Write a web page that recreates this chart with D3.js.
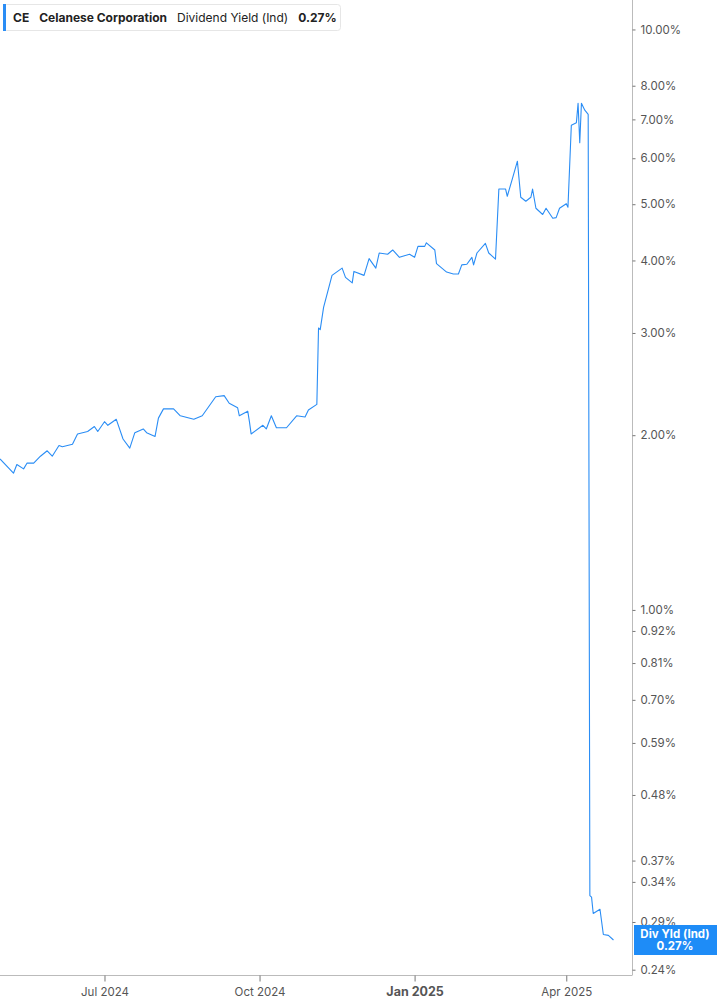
<!DOCTYPE html>
<html>
<head>
<meta charset="utf-8">
<script src="https://cdn.jsdelivr.net/npm/d3@7"></script>
<style>
  body { margin: 0; background: #fff; font-family: Inter, "Noto Sans", sans-serif; }
</style>
</head>
<body>
<svg id="chart" width="717" height="1005"></svg>
<script>
const dates = [
  '2024-04-30','2024-05-08','2024-05-10','2024-05-14','2024-05-16','2024-05-20','2024-05-24','2024-05-28','2024-05-31',
  '2024-06-04','2024-06-06','2024-06-12','2024-06-15','2024-06-21','2024-06-25','2024-06-27','2024-07-01','2024-07-03',
  '2024-07-08','2024-07-12','2024-07-16','2024-07-19','2024-07-24','2024-07-26','2024-07-31','2024-08-02','2024-08-05',
  '2024-08-11','2024-08-15','2024-08-23','2024-08-28','2024-09-05','2024-09-10','2024-09-13','2024-09-18','2024-09-19',
  '2024-09-24','2024-09-25','2024-09-26','2024-10-03','2024-10-05','2024-10-08','2024-10-11','2024-10-17','2024-10-23',
  '2024-10-28','2024-10-30','2024-11-04','2024-11-05','2024-11-06','2024-11-08','2024-11-13','2024-11-19','2024-11-21',
  '2024-11-25','2024-11-26','2024-12-02','2024-12-05','2024-12-09','2024-12-11','2024-12-16','2024-12-19','2024-12-23',
  '2024-12-29','2025-01-01','2025-01-03','2025-01-07','2025-01-08','2025-01-13','2025-01-14','2025-01-20','2025-01-24',
  '2025-01-27','2025-01-29','2025-02-01','2025-02-04','2025-02-05','2025-02-07','2025-02-12','2025-02-14','2025-02-18',
  '2025-02-20','2025-02-24','2025-02-25','2025-02-28','2025-03-03','2025-03-05','2025-03-08','2025-03-11','2025-03-12',
  '2025-03-14','2025-03-18','2025-03-20','2025-03-24','2025-03-26','2025-03-28','2025-04-01','2025-04-02','2025-04-04',
  '2025-04-07','2025-04-08','2025-04-09','2025-04-10','2025-04-12','2025-04-14','2025-04-15','2025-04-16','2025-04-17',
  '2025-04-21','2025-04-23','2025-04-26','2025-04-29'
];
const yieldPct = [
  1.82,1.72,1.78,1.75,1.79,1.79,1.84,1.88,1.84,
  1.92,1.91,1.93,2.01,2.03,2.07,2.03,2.11,2.08,
  2.13,1.97,1.90,2.02,2.05,2.02,1.99,2.14,2.22,
  2.22,2.16,2.13,2.16,2.33,2.34,2.27,2.23,2.16,
  2.20,2.11,2.01,2.08,2.05,2.16,2.06,2.06,2.16,
  2.15,2.21,2.26,3.06,3.04,3.32,3.77,3.88,3.74,
  3.66,3.83,3.77,4.03,3.88,4.12,4.10,4.17,4.05,
  4.10,4.05,4.23,4.23,4.29,4.17,3.95,3.82,3.79,
  3.79,3.93,3.94,4.05,3.93,4.12,4.28,4.12,4.02,
  5.31,5.31,5.16,5.53,5.93,5.14,5.06,5.14,5.31,
  4.92,4.80,4.92,4.73,4.74,4.92,5.01,4.94,6.84,
  6.91,7.46,6.38,7.46,7.26,7.14,0.322,0.320,0.300,
  0.305,0.276,0.275,0.270
];
const yTicks = [10, 8, 7, 6, 5, 4, 3, 2, 1, 0.92, 0.81, 0.70, 0.59, 0.48, 0.37, 0.34, 0.29, 0.24];
const xTicks = ['2024-07-01', '2024-10-01', '2025-01-01', '2025-04-01'];

const parse = d3.timeParse('%Y-%m-%d');
const data = dates.map((d, i) => ({ date: parse(d), v: yieldPct[i] }));

const svg = d3.select('#chart');
const W = 632, H = 975;
const blue = '#2a8df5';

const x = d3.scaleTime()
  .domain([parse('2024-04-30'), parse('2025-05-10')])
  .range([0, W]);
const y = d3.scaleLog()
  .domain([0.235, 11.24])
  .range([H, 0]);

// axes frame
svg.append('line').attr('x1', W + 0.5).attr('x2', W + 0.5).attr('y1', 0).attr('y2', H)
  .attr('stroke', '#bbb');
svg.append('line').attr('x1', 0).attr('x2', W + 0.5).attr('y1', H + 0.5).attr('y2', H + 0.5)
  .attr('stroke', '#bbb');

const yAxis = d3.axisRight(y).tickValues(yTicks).tickSize(3).tickPadding(5)
  .tickFormat(d => d.toFixed(2) + '%');
svg.append('g').attr('transform', `translate(${W + 0.5},0)`).call(yAxis)
  .call(g => g.select('.domain').remove())
  .call(g => g.selectAll('line').attr('stroke', '#777'))
  .call(g => g.selectAll('text').attr('fill', '#555').style('font-size', '11.5px').style('font-family', 'Inter, sans-serif'));

const xAxis = d3.axisBottom(x).tickValues(xTicks.map(parse)).tickSize(6).tickPadding(6)
  .tickFormat(d3.timeFormat('%b %Y'));
svg.append('g').attr('transform', `translate(0,${H + 0.5})`).call(xAxis)
  .call(g => g.select('.domain').remove())
  .call(g => g.selectAll('line').attr('stroke', '#777'))
  .call(g => g.selectAll('text').attr('fill', '#555').style('font-size', '11.5px').style('font-family', 'Inter, sans-serif')
    .style('font-weight', d => d.getMonth() === 0 ? 'bold' : 'normal')
    .style('font-size', d => d.getMonth() === 0 ? '12.5px' : '11.5px'));

// series
svg.append('path').datum(data)
  .attr('fill', 'none').attr('stroke', blue).attr('stroke-width', 1.1)
  .attr('stroke-linejoin', 'round')
  .attr('d', d3.line().x(d => x(d.date)).y(d => y(d.v)));

// last value label
const last = data[data.length - 1];
const ly = y(last.v);
const lab = svg.append('g').attr('transform', `translate(${W + 2},${ly - 15})`);
lab.append('rect').attr('width', 83).attr('height', 30).attr('fill', '#1e8cf7');
lab.append('text').attr('x', 41).attr('y', 13).attr('text-anchor', 'middle').attr('fill', '#fff')
  .style('font-size', '11.5px').style('font-weight', 'bold').text('Div Yld (Ind)');
lab.append('text').attr('x', 41).attr('y', 25).attr('text-anchor', 'middle').attr('fill', '#fff')
  .style('font-size', '11.5px').style('font-weight', 'bold').text(last.v.toFixed(2) + '%');

// legend
const lg = svg.append('g').attr('transform', 'translate(3,4)');
lg.append('rect').attr('x', 0.5).attr('y', 0.5).attr('width', 337).attr('height', 26).attr('rx', 3)
  .attr('fill', '#fff').attr('stroke', '#e6e6e6');
lg.append('rect').attr('x', 0).attr('y', 0).attr('width', 3).attr('height', 27).attr('fill', blue);
const lt = lg.append('text').attr('x', 10).attr('y', 17.5).attr('fill', '#222').style('font-size', '12px');
lt.append('tspan').style('font-weight', 'bold').text('CE');
lt.append('tspan').attr('dx', 10).style('font-weight', 'bold').text('Celanese Corporation');
lt.append('tspan').attr('dx', 10).text('Dividend Yield (Ind)');
lt.append('tspan').attr('dx', 10).style('font-weight', 'bold').text(last.v.toFixed(2) + '%');
</script>
</body>
</html>
